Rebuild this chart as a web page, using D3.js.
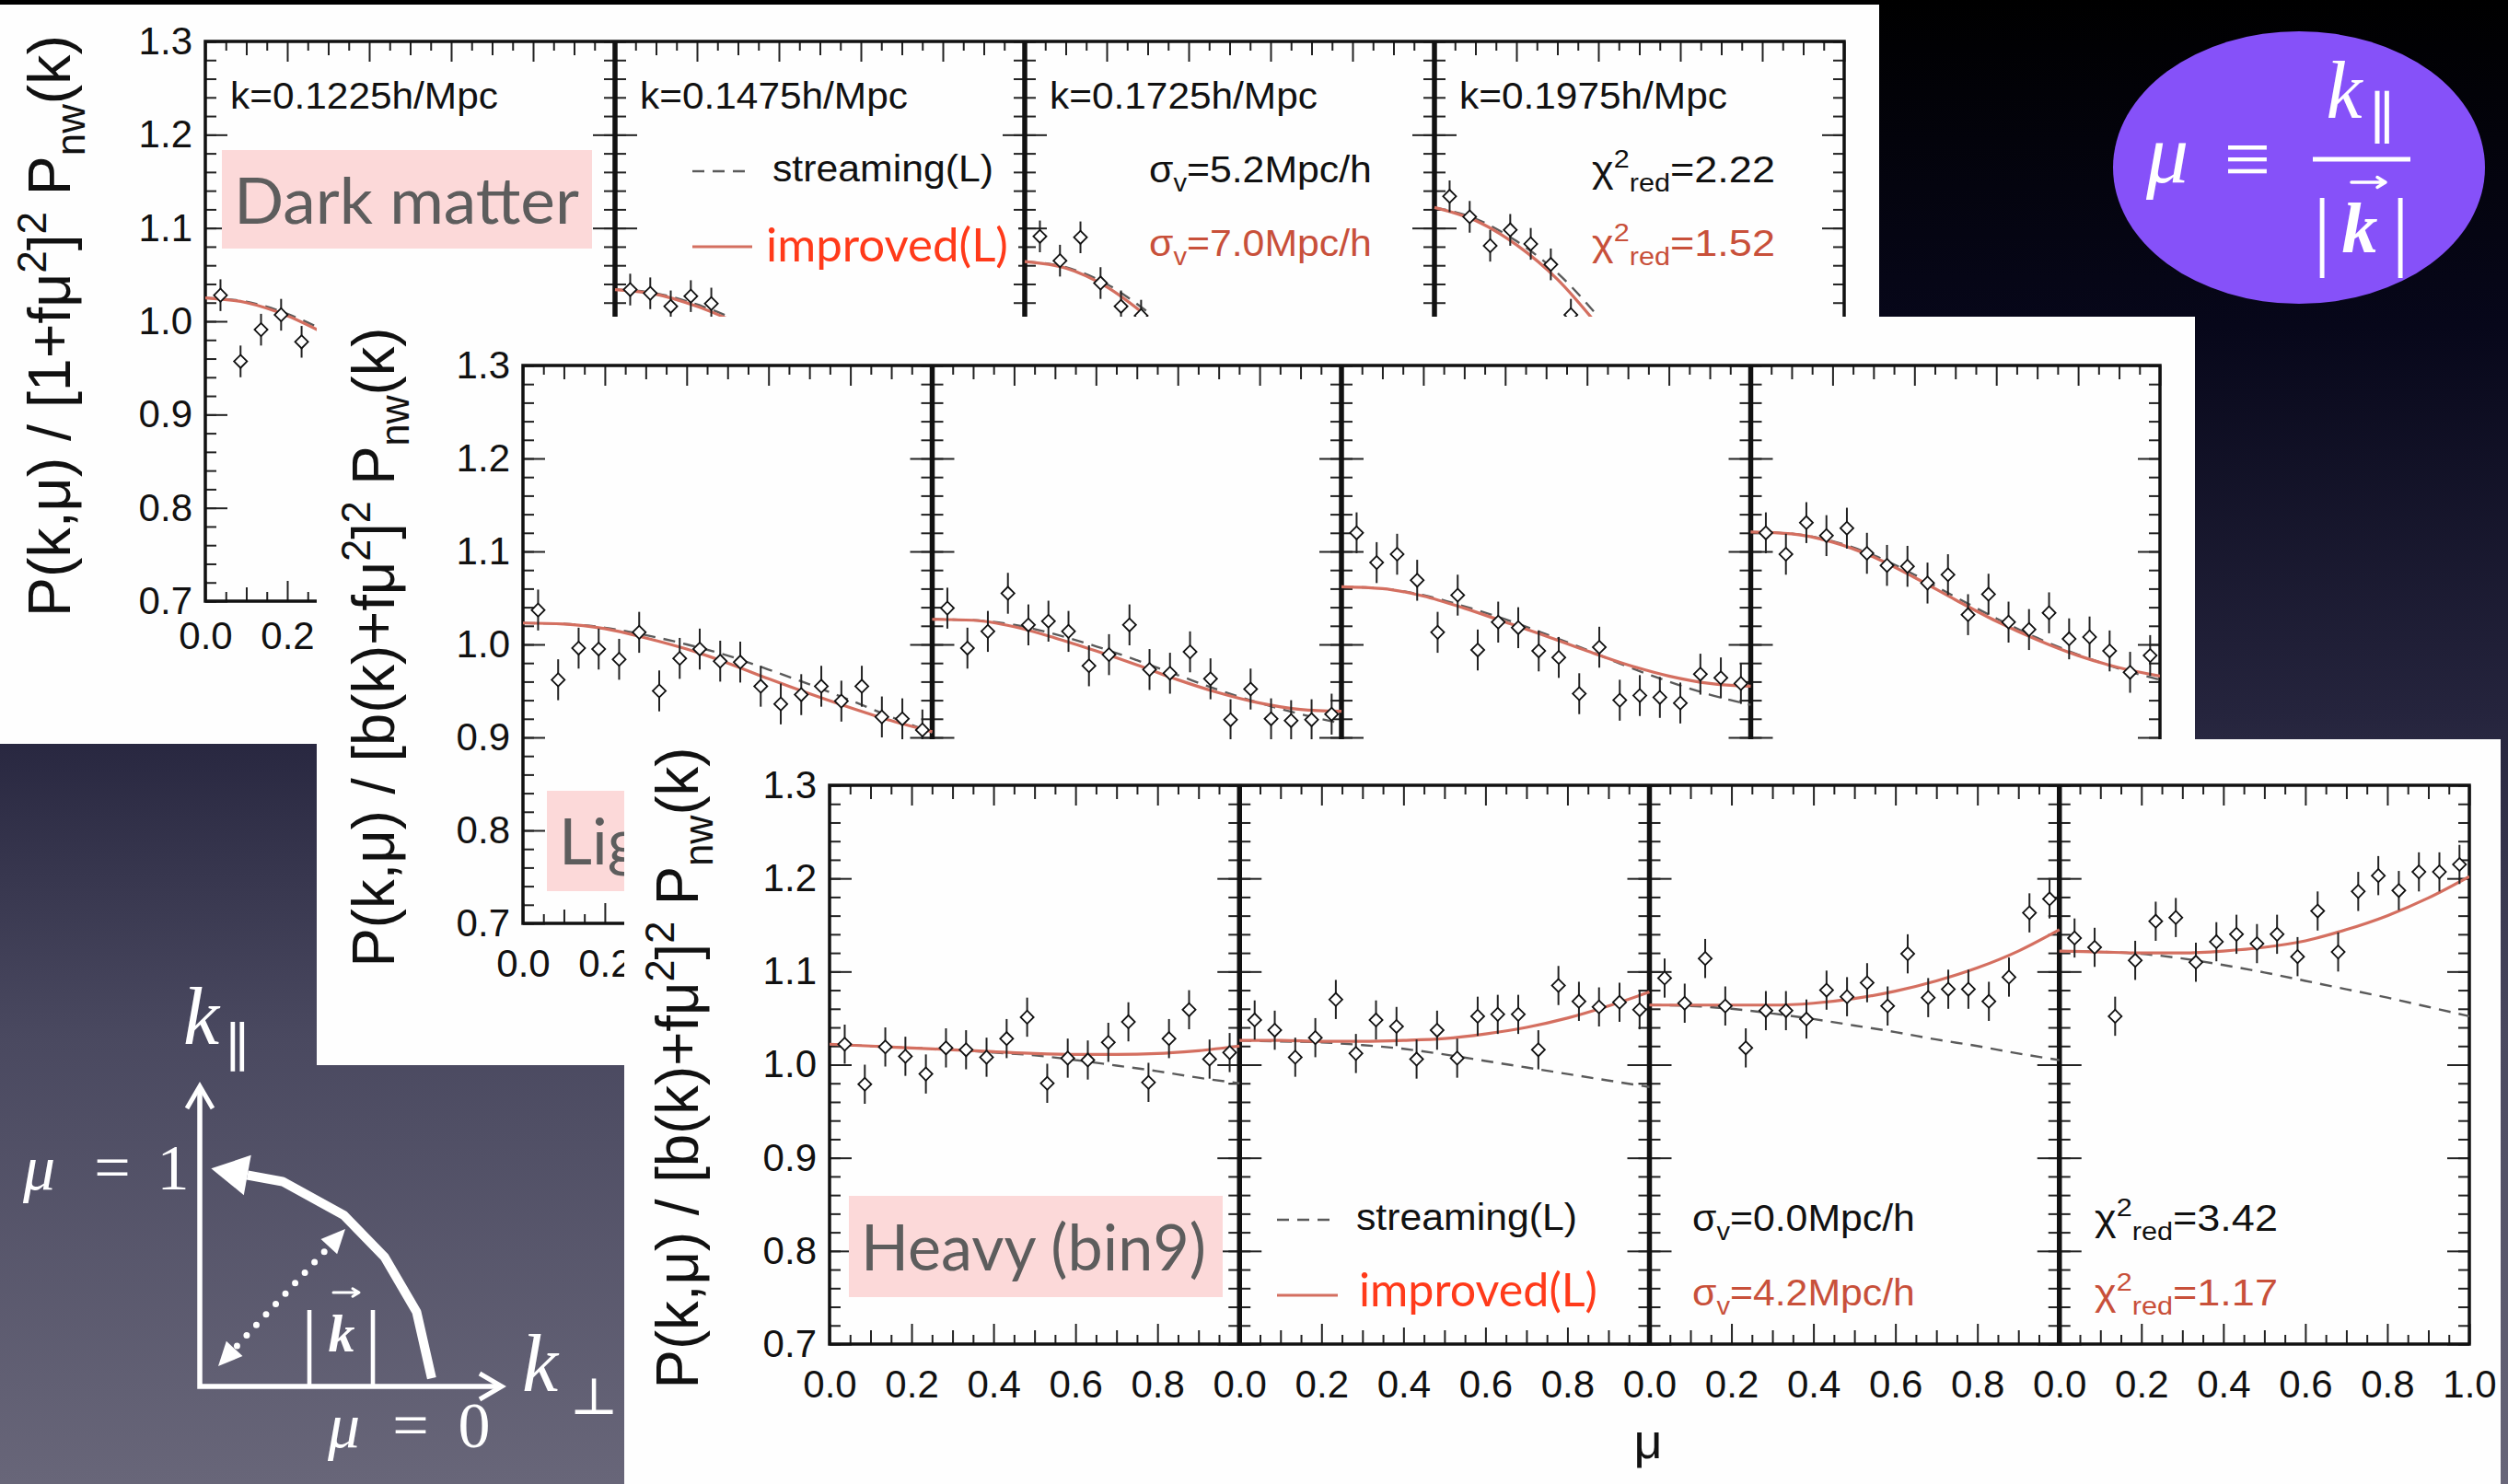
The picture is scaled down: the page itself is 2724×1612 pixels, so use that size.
<!DOCTYPE html>
<html>
<head>
<meta charset="utf-8">
<script src="https://cdn.jsdelivr.net/npm/d3@7"></script>
<style>
  html, body { margin: 0; padding: 0; background: #000; overflow: hidden; }
</style>
</head>
<body>
<svg id="slide" width="2724" height="1612"></svg>
<script>
// ---------- data ----------
// mean mu of each of the 20 mu-bins
const muBins = [0.037, 0.086, 0.136, 0.185, 0.235, 0.284, 0.333, 0.383, 0.432, 0.482,
                0.531, 0.581, 0.630, 0.680, 0.729, 0.778, 0.828, 0.877, 0.927, 0.976];
// mu nodes of the model curves
const muModel = [0, 0.1, 0.2, 0.3, 0.4, 0.5, 0.6, 0.7, 0.8, 0.9, 1.0];

const yMajor = [0.7, 0.8, 0.9, 1.0, 1.1, 1.2, 1.3];
const yTickLabels = ["0.7", "0.8", "0.9", "1.0", "1.1", "1.2", "1.3"];
const xMajor = [0, 0.2, 0.4, 0.6, 0.8, 1.0];
const xTickLabels = ["0.0", "0.2", "0.4", "0.6", "0.8", "1.0"];
const xMid = [0.1, 0.3, 0.5, 0.7, 0.9];
const xMinor = [0.05, 0.15, 0.25, 0.35, 0.45, 0.55, 0.65, 0.75, 0.85, 0.95];

const kLabels = ["k=0.1225h/Mpc", "k=0.1475h/Mpc", "k=0.1725h/Mpc", "k=0.1975h/Mpc"];

// Dark matter: low-mu part of each k-bin
const dmPoints = [
  [1.028, 0.957, 0.991, 1.007, 0.978],
  [1.034, 1.030, 1.016, 1.027, 1.019],
  [1.091, 1.065, 1.090, 1.041, 1.016, 1.006],
  [1.134, 1.112, 1.081, 1.098, 1.083, 1.061, 1.007]
];
const dmImproved = [
  [1.025, 1.020, 1.006, 0.985],
  [1.034, 1.029, 1.016, 0.998],
  [1.064, 1.057, 1.037, 1.005],
  [1.122, 1.108, 1.082, 1.045, 0.995]
];
const dmStreaming = [
  [1.025, 1.021, 1.008, 0.988],
  [1.034, 1.030, 1.018, 1.001],
  [1.064, 1.058, 1.040, 1.010],
  [1.122, 1.110, 1.086, 1.052, 1.005]
];
const dmErr = 0.017;

// Light haloes
const lightPoints = [
  [1.037, 0.962, 0.996, 0.995, 0.984, 1.013, 0.950, 0.985, 0.995, 0.982,
   0.981, 0.955, 0.936, 0.946, 0.955, 0.939, 0.955, 0.922, 0.920, 0.908],
  [1.039, 0.996, 1.014, 1.055, 1.021, 1.025, 1.014, 0.977, 0.989, 1.021,
   0.973, 0.969, 0.992, 0.963, 0.919, 0.952, 0.920, 0.918, 0.919, 0.925],
  [1.120, 1.088, 1.097, 1.069, 1.013, 1.053, 0.994, 1.024, 1.018, 0.993,
   0.986, 0.947, 0.997, 0.940, 0.945, 0.943, 0.937, 0.968, 0.964, 0.958],
  [1.120, 1.097, 1.131, 1.117, 1.125, 1.098, 1.085, 1.084, 1.066, 1.075,
   1.032, 1.054, 1.024, 1.016, 1.034, 1.006, 1.008, 0.993, 0.970, 0.988]
];
const lightImproved = [
  [1.023, 1.022, 1.017, 1.007, 0.995, 0.980, 0.963, 0.947, 0.932, 0.918, 0.906],
  [1.027, 1.026, 1.019, 1.007, 0.993, 0.978, 0.962, 0.948, 0.937, 0.930, 0.928],
  [1.062, 1.060, 1.052, 1.039, 1.024, 1.009, 0.993, 0.978, 0.966, 0.958, 0.955],
  [1.121, 1.119, 1.110, 1.094, 1.072, 1.048, 1.025, 1.005, 0.988, 0.975, 0.966]
];
const lightStreaming = [
  [1.023, 1.022, 1.018, 1.010, 1.000, 0.988, 0.973, 0.957, 0.940, 0.922, 0.905],
  [1.027, 1.026, 1.021, 1.011, 0.998, 0.983, 0.967, 0.951, 0.937, 0.925, 0.915],
  [1.062, 1.060, 1.053, 1.041, 1.027, 1.011, 0.994, 0.976, 0.960, 0.946, 0.935],
  [1.121, 1.119, 1.111, 1.096, 1.075, 1.051, 1.028, 1.007, 0.989, 0.974, 0.962]
];
const lightErr = 0.022;

// Heavy haloes (bin9)
const heavyPoints = [
  [1.022, 0.979, 1.019, 1.009, 0.990, 1.018, 1.016, 1.008, 1.028, 1.051,
   0.980, 1.007, 1.005, 1.024, 1.046, 0.981, 1.028, 1.059, 1.006, 1.013],
  [1.048, 1.037, 1.008, 1.029, 1.070, 1.012, 1.048, 1.041, 1.006, 1.037,
   1.007, 1.052, 1.054, 1.054, 1.016, 1.085, 1.068, 1.062, 1.067, 1.059],
  [1.093, 1.066, 1.114, 1.063, 1.018, 1.058, 1.058, 1.049, 1.080, 1.073,
   1.088, 1.063, 1.119, 1.072, 1.081, 1.081, 1.068, 1.094, 1.163, 1.178],
  [1.136, 1.126, 1.052, 1.112, 1.154, 1.158, 1.110, 1.132, 1.140, 1.130,
   1.140, 1.116, 1.165, 1.121, 1.186, 1.203, 1.187, 1.207, 1.207, 1.215]
];
const heavyImproved = [
  [1.022, 1.020, 1.018, 1.016, 1.014, 1.012, 1.011, 1.011, 1.012, 1.015, 1.020],
  [1.026, 1.026, 1.025, 1.025, 1.026, 1.028, 1.033, 1.040, 1.050, 1.063, 1.078],
  [1.064, 1.064, 1.064, 1.064, 1.066, 1.071, 1.079, 1.090, 1.104, 1.122, 1.145],
  [1.122, 1.121, 1.120, 1.120, 1.122, 1.126, 1.133, 1.145, 1.160, 1.179, 1.202]
];
const heavyStreaming = [
  [1.022, 1.020, 1.018, 1.016, 1.013, 1.010, 1.005, 0.999, 0.993, 0.986, 0.980],
  [1.026, 1.025, 1.024, 1.021, 1.017, 1.011, 1.004, 0.997, 0.990, 0.983, 0.976],
  [1.064, 1.063, 1.060, 1.055, 1.049, 1.042, 1.035, 1.027, 1.020, 1.012, 1.005],
  [1.122, 1.121, 1.119, 1.114, 1.107, 1.099, 1.090, 1.081, 1.072, 1.062, 1.052]
];
const heavyErr = 0.021;

// fitted velocity dispersions and reduced chi^2 (streaming / improved)
const dmFit = { sigma: ["5.2", "7.0"], chi2: ["2.22", "1.52"] };
const heavyFit = { sigma: ["0.0", "4.2"], chi2: ["3.42", "1.17"] };

// ---------- style ----------
const FONT = "'Liberation Sans', Arial, Helvetica, sans-serif";
const SLIDE_FONT = "Lato, 'Open Sans', sans-serif";
const MATH_FONT = "'Liberation Serif', 'DejaVu Serif', serif";
const RED_MODEL = "#d46f60";
const RED_NOTE = "#c8503a";
const RED_SLIDE = "#ff3a1a";
const TAG_FILL = "#fcd9d9";
const TAG_TEXT = "#5d5d5d";

const svg = d3.select("#slide");
const defs = svg.append("defs");

// slide background
const grad = defs.append("linearGradient").attr("id", "bg")
  .attr("x1", 0).attr("y1", 0).attr("x2", 0).attr("y2", 1);
[[0, "#000000"], [0.22, "#07071a"], [0.48, "#25243d"], [0.7, "#4a4960"], [1, "#686679"]]
  .forEach(([o, c]) => grad.append("stop").attr("offset", o).attr("stop-color", c));
svg.append("rect").attr("width", 2724).attr("height", 1612).attr("fill", "url(#bg)");

// ---------- helpers ----------
function rich(text, parts, size) {
  let shift = 0;
  parts.forEach(([t, kind]) => {
    const target = kind === "sup" ? -0.4 * size : kind === "sub" ? 0.25 * size : 0;
    const ts = text.append("tspan").text(t);
    if (target - shift !== 0) ts.attr("dy", target - shift);
    if (kind) ts.attr("font-size", size * 0.68);
    shift = target;
  });
}

function label(parent, x, y, parts, o) {
  const g = parent.append("g").attr("transform", `translate(${x},${y})`);
  const t = g.append("text")
    .attr("font-family", o.family || FONT)
    .attr("font-size", o.size)
    .attr("fill", o.fill || "#111")
    .attr("text-anchor", o.anchor || "start")
    .style("white-space", "pre");
  if (o.style) t.attr("font-style", o.style);
  if (o.weight) t.attr("font-weight", o.weight);
  rich(t, typeof parts === "string" ? [[parts]] : parts, o.size);
  let tf = "";
  if (o.rotate) tf += `rotate(${o.rotate})`;
  if (o.width) {
    const w = t.node().getComputedTextLength();
    tf += ` scale(${o.width / w},1)`;
  }
  if (tf) t.attr("transform", tf);
  return t;
}

// small vector arrow drawn over a symbol
function vecArrow(parent, x0, x1, y, head, width) {
  parent.append("path")
    .attr("d", d3.line()([[x0, y], [x1 - 2, y]]) + d3.line()([[x1 - head, y - head * 0.6], [x1, y], [x1 - head, y + head * 0.6]]))
    .attr("fill", "none").attr("stroke", "#fff").attr("stroke-width", width)
    .attr("stroke-linecap", "round").attr("stroke-linejoin", "round");
}

function addAxis(g, axis, x, y, fontSize) {
  const a = g.append("g").attr("transform", `translate(${x},${y})`).call(axis);
  a.select(".domain").remove();
  a.attr("font-family", null).attr("font-size", null);
  a.selectAll("line").attr("stroke", "#222").attr("stroke-width", 2);
  a.selectAll("text").attr("font-family", FONT).attr("font-size", fontSize || 42).attr("fill", "#111");
  return a;
}

function drawPanel(p) {
  const g = svg.append("g");
  const [sx0, sy0, sx1, sy1] = p.sheet;
  g.append("rect").attr("x", sx0).attr("y", sy0)
    .attr("width", sx1 - sx0).attr("height", sy1 - sy0).attr("fill", "#fefefe");

  const y = d3.scaleLinear().domain([0.7, 1.3]).range([p.plot.b, p.plot.t]);
  const fw = (p.plot.r - p.plot.l) / 4;
  const xs = d3.range(4).map(i =>
    d3.scaleLinear().domain([0, 1]).range([p.plot.l + i * fw, p.plot.l + (i + 1) * fw]));
  const yMinor = d3.range(0.7, 1.3001, 0.02);

  // ticks on all four sides of every facet
  xs.forEach((x, i) => {
    const [x0, x1] = x.range();
    addAxis(g, d3.axisLeft(y).tickValues(yMinor).tickSize(-12).tickFormat(""), x0, 0);
    addAxis(g, d3.axisLeft(y).tickValues(yMajor).tickSize(-24).tickPadding(14)
      .tickFormat((d, j) => i === 0 ? yTickLabels[j] : ""), x0, 0);
    addAxis(g, d3.axisRight(y).tickValues(yMinor).tickSize(-12).tickFormat(""), x1, 0);
    addAxis(g, d3.axisRight(y).tickValues(yMajor).tickSize(-24).tickFormat(""), x1, 0);

    // labelled mu ticks; the next sheet covers everything right of p.labelLimit
    const nLab = i === 3 ? 6 : 5;
    const labVals = xMajor.slice(0, nLab).filter(v => x(v) < p.labelLimit);
    addAxis(g, d3.axisBottom(x).tickValues(xMajor.slice(0, nLab)).tickSize(-22).tickFormat(""), 0, p.plot.b);
    if (labVals.length) {
      addAxis(g, d3.axisBottom(x).tickValues(labVals).tickSize(0).tickPadding(p.xPad)
        .tickFormat(v => xTickLabels[xMajor.indexOf(v)]), 0, p.plot.b);
    }
    addAxis(g, d3.axisBottom(x).tickValues(xMid).tickSize(-15).tickFormat(""), 0, p.plot.b);
    addAxis(g, d3.axisBottom(x).tickValues(xMinor).tickSize(-10).tickFormat(""), 0, p.plot.b);
    addAxis(g, d3.axisTop(x).tickValues(xMajor).tickSize(-22).tickFormat(""), 0, p.plot.t);
    addAxis(g, d3.axisTop(x).tickValues(xMid).tickSize(-15).tickFormat(""), 0, p.plot.t);
    addAxis(g, d3.axisTop(x).tickValues(xMinor).tickSize(-10).tickFormat(""), 0, p.plot.t);
  });

  // frame and facet dividers
  g.append("rect").attr("x", p.plot.l).attr("y", p.plot.t)
    .attr("width", p.plot.r - p.plot.l).attr("height", p.plot.b - p.plot.t)
    .attr("fill", "none").attr("stroke", "#111").attr("stroke-width", 3.5);
  g.selectAll(null).data(xs.slice(1)).join("line")
    .attr("x1", x => x.range()[0]).attr("x2", x => x.range()[0])
    .attr("y1", p.plot.t).attr("y2", p.plot.b)
    .attr("stroke", "#111").attr("stroke-width", 5.5);

  // y-axis title
  label(g, p.titleX, p.titleY, p.title, { size: 64, anchor: "middle", rotate: -90, width: p.titleLen });

  return { g, xs, y };
}

function drawData(panel, p) {
  const { g, xs, y } = panel;
  defs.append("clipPath").attr("id", "clip-" + p.id).append("rect")
    .attr("x", p.plot.l).attr("y", p.plot.t)
    .attr("width", p.plot.r - p.plot.l).attr("height", p.plot.b - p.plot.t);
  const cg = g.append("g").attr("clip-path", `url(#clip-${p.id})`);
  xs.forEach((x, i) => {
    const line = d3.line().x((d, j) => x(muModel[j])).y(d => y(d)).curve(d3.curveMonotoneX);
    cg.append("path").attr("d", line(p.streaming[i])).attr("fill", "none")
      .attr("stroke", "#5a5a5a").attr("stroke-width", 2.4).attr("stroke-dasharray", "13,9");
    cg.append("path").attr("d", line(p.improved[i])).attr("fill", "none")
      .attr("stroke", RED_MODEL).attr("stroke-width", 3.2);
    const pts = p.points[i].map((v, j) => ({ mu: muBins[j], v }));
    cg.selectAll(null).data(pts).join("line")
      .attr("x1", d => x(d.mu)).attr("x2", d => x(d.mu))
      .attr("y1", d => y(d.v - p.err)).attr("y2", d => y(d.v + p.err))
      .attr("stroke", "#222").attr("stroke-width", 2);
    cg.selectAll(null).data(pts).join("path")
      .attr("d", d3.symbol(d3.symbolSquare, 100))
      .attr("transform", d => `translate(${x(d.mu)},${y(d.v)}) rotate(45)`)
      .attr("fill", "#fff").attr("stroke", "#111").attr("stroke-width", 1.8);
  });
}

function tag(g, box, text, baseline, width, clipRight) {
  let host = g;
  if (clipRight) {
    const id = "tagclip-" + Math.round(box[0]);
    defs.append("clipPath").attr("id", id).append("rect")
      .attr("x", box[0]).attr("y", box[1]).attr("width", clipRight - box[0]).attr("height", box[3] - box[1]);
    host = g.append("g").attr("clip-path", `url(#${id})`);
  }
  host.append("rect").attr("x", box[0]).attr("y", box[1])
    .attr("width", box[2] - box[0]).attr("height", box[3] - box[1]).attr("fill", TAG_FILL);
  label(host, box[0] + 13, baseline, text, { size: 70, family: SLIDE_FONT, fill: TAG_TEXT, width });
}

function legend(g, o) {
  g.append("line").attr("x1", o.x0).attr("x2", o.x1).attr("y1", o.yDash).attr("y2", o.yDash)
    .attr("stroke", "#5a5a5a").attr("stroke-width", 2.4).attr("stroke-dasharray", "13,9");
  label(g, o.textX, o.yDash + 11, "streaming(L)", { size: 41, width: 240 });
  g.append("rect").attr("x", o.bg[0]).attr("y", o.bg[1])
    .attr("width", o.bg[2] - o.bg[0]).attr("height", o.bg[3] - o.bg[1]).attr("fill", "#fefefe");
  g.append("line").attr("x1", o.x0).attr("x2", o.x1).attr("y1", o.yRed).attr("y2", o.yRed)
    .attr("stroke", RED_MODEL).attr("stroke-width", 3.2);
  label(g, o.redX, o.redBase, "improved(L)", { size: 50, family: SLIDE_FONT, fill: RED_SLIDE, width: o.redW });
}

function fitNotes(g, fit, sx, cx, base1, base2) {
  label(g, sx, base1, [["σ"], ["v", "sub"], ["=" + fit.sigma[0] + "Mpc/h"]], { size: 41, width: 242 });
  label(g, sx, base2, [["σ"], ["v", "sub"], ["=" + fit.sigma[1] + "Mpc/h"]], { size: 41, width: 242, fill: RED_NOTE });
  label(g, cx, base1, [["χ"], ["2", "sup"], ["red", "sub"], ["=" + fit.chi2[0]]], { size: 41, width: 199 });
  label(g, cx, base2, [["χ"], ["2", "sup"], ["red", "sub"], ["=" + fit.chi2[1]]], { size: 41, width: 199, fill: RED_NOTE });
}

const titleDM = [["P(k,μ) / [1+fμ"], ["2", "sup"], ["]"], ["2", "sup"], [" P"], ["nw", "sub"], ["(k)"]];
const titleBias = [["P(k,μ) / [b(k)+fμ"], ["2", "sup"], ["]"], ["2", "sup"], [" P"], ["nw", "sub"], ["(k)"]];

// ---------- Dark matter sheet ----------
const pDM = {
  id: "dm", sheet: [0, 5, 2041, 808], plot: { l: 223, r: 2003, t: 45, b: 653 }, xPad: 22, labelLimit: 344,
  title: titleDM, titleX: 76, titleY: 354, titleLen: 632,
  points: dmPoints, improved: dmImproved, streaming: dmStreaming, err: dmErr
};
const dm = drawPanel(pDM);
tag(dm.g, [241, 163, 643, 270], "Dark matter", 243, 375);
drawData(dm, pDM);
dm.xs.forEach((x, i) => label(dm.g, x(0) + 27, 118, kLabels[i], { size: 41, width: 291 }));
legend(dm.g, { x0: 752, x1: 817, yDash: 186, textX: 839, bg: [820, 240, 1106, 306],
               yRed: 268, redX: 832, redBase: 284, redW: 263 });
fitNotes(dm.g, dmFit, 1248, 1729, 198, 278);

// ---------- Light haloes sheet ----------
const pLight = {
  id: "light", sheet: [344, 344, 2384, 1157], plot: { l: 568, r: 2346, t: 397, b: 1003 }, xPad: 28, labelLimit: 678,
  title: titleBias, titleX: 428, titleY: 703, titleLen: 695,
  points: lightPoints, improved: lightImproved, streaming: lightStreaming, err: lightErr
};
const light = drawPanel(pLight);
drawData(light, pLight);
tag(light.g, [594, 859, 1000, 968], "Light", 939, null, 678);

// ---------- Heavy haloes sheet ----------
const pHeavy = {
  id: "heavy", sheet: [678, 803, 2716, 1612], plot: { l: 901, r: 2682, t: 853, b: 1460 }, xPad: 28, labelLimit: 2724,
  title: titleBias, titleX: 758, titleY: 1160, titleLen: 697,
  points: heavyPoints, improved: heavyImproved, streaming: heavyStreaming, err: heavyErr
};
const heavy = drawPanel(pHeavy);
drawData(heavy, pHeavy);
tag(heavy.g, [922, 1299, 1328, 1409], "Heavy (bin9)", 1380, 375);
legend(heavy.g, { x0: 1387, x1: 1453, yDash: 1325, textX: 1473, bg: [1459, 1378, 1752, 1442],
                  yRed: 1407, redX: 1476, redBase: 1419, redW: 259 });
fitNotes(heavy.g, heavyFit, 1838, 2275, 1337, 1418);
label(heavy.g, 1790, 1584, "μ", { size: 54, anchor: "middle" });

// ---------- definition of mu ----------
const def = svg.append("g").attr("fill", "#fff");
def.append("ellipse").attr("cx", 2497).attr("cy", 182).attr("rx", 202).attr("ry", 148).attr("fill", "#8651f9");
label(def, 2354, 198, "μ", { size: 92, family: MATH_FONT, style: "italic", anchor: "middle", fill: "#fff" });
label(def, 2441, 203, "≡", { size: 90, family: MATH_FONT, anchor: "middle", fill: "#fff" });
def.append("line").attr("x1", 2512).attr("x2", 2618).attr("y1", 173).attr("y2", 173)
  .attr("stroke", "#fff").attr("stroke-width", 5);
label(def, 2546, 128, "k", { size: 88, family: MATH_FONT, style: "italic", anchor: "middle", fill: "#fff" });
label(def, 2587, 150, "∥", { size: 62, family: "'DejaVu Serif', serif", anchor: "middle", fill: "#fff" });
label(def, 2522, 282, "|", { size: 96, family: MATH_FONT, anchor: "middle", fill: "#fff" });
label(def, 2607, 282, "|", { size: 96, family: MATH_FONT, anchor: "middle", fill: "#fff" });
label(def, 2563, 274, "k", { size: 78, family: MATH_FONT, style: "italic", weight: "bold", anchor: "middle", fill: "#fff" });
vecArrow(def, 2554, 2591, 198, 9, 3.5);

// ---------- k-space sketch ----------
const sk = svg.append("g");
const origin = [217, 1506];
const white = "#fff";
sk.append("path").attr("d", d3.line()([[origin[0], 1182], origin, [543, origin[1]]]))
  .attr("fill", "none").attr("stroke", white).attr("stroke-width", 5.5);
sk.append("path").attr("d", d3.line()([[203, 1204], [217, 1180], [231, 1204]]))
  .attr("fill", "none").attr("stroke", white).attr("stroke-width", 5).attr("stroke-linejoin", "miter");
sk.append("path").attr("d", d3.line()([[521, 1492], [545, 1506], [521, 1520]]))
  .attr("fill", "none").attr("stroke", white).attr("stroke-width", 5).attr("stroke-linejoin", "miter");

// quarter circle of fixed |k|, drawn as a chain of segments
const arcDeg = [2, 19, 35, 50, 68];
const arcR = [252, 249, 245, 243, 240];
const polar = (deg, r) => [origin[0] + r * Math.cos(deg * Math.PI / 180), origin[1] - r * Math.sin(deg * Math.PI / 180)];
const arcPts = arcDeg.map((a, i) => polar(a, arcR[i]));
const tip = polar(87, 237);
const last = arcPts[arcPts.length - 1];
const dl = Math.hypot(tip[0] - last[0], tip[1] - last[1]);
const dir = [(tip[0] - last[0]) / dl, (tip[1] - last[1]) / dl];
const base = [tip[0] - 40 * dir[0], tip[1] - 40 * dir[1]];
sk.append("path").attr("d", d3.line()([...arcPts, base]))
  .attr("fill", "none").attr("stroke", white).attr("stroke-width", 10).attr("stroke-linejoin", "bevel");
sk.append("path").attr("d", d3.line()([tip,
    [base[0] + 22 * dir[1], base[1] - 22 * dir[0]],
    [base[0] - 22 * dir[1], base[1] + 22 * dir[0]]]) + "Z")
  .attr("fill", white);

// dotted |k| double arrow
const dA = [237, 1484], dB = [375, 1335];
const dd = Math.hypot(dB[0] - dA[0], dB[1] - dA[1]);
const du = [(dB[0] - dA[0]) / dd, (dB[1] - dA[1]) / dd];
const head = (t, s) => {
  const b = [t[0] - s * 26 * du[0], t[1] - s * 26 * du[1]];
  return d3.line()([t, [b[0] + 12 * du[1], b[1] - 12 * du[0]], [b[0] - 12 * du[1], b[1] + 12 * du[0]]]) + "Z";
};
sk.append("line")
  .attr("x1", dA[0] + 30 * du[0]).attr("y1", dA[1] + 30 * du[1])
  .attr("x2", dB[0] - 30 * du[0]).attr("y2", dB[1] - 30 * du[1])
  .attr("stroke", white).attr("stroke-width", 7).attr("stroke-linecap", "round")
  .attr("stroke-dasharray", "0,15.5");
sk.append("path").attr("d", head(dA, -1)).attr("fill", white);
sk.append("path").attr("d", head(dB, 1)).attr("fill", white);

const mathOpt = (size, extra) => Object.assign({ size, family: MATH_FONT, fill: white, style: "italic" }, extra || {});
label(sk, 199, 1134, "k", mathOpt(88));
label(sk, 258, 1158, "∥", { size: 58, family: "'DejaVu Serif', serif", fill: white, anchor: "middle" });
label(sk, 567, 1511, "k", mathOpt(88));
label(sk, 645, 1536, "⊥", { size: 56, family: "'DejaVu Serif', serif", fill: white, anchor: "middle" });
label(sk, 25, 1292, "μ", mathOpt(70));
label(sk, 122, 1292, "=", mathOpt(70, { style: null, anchor: "middle" }));
label(sk, 188, 1292, "1", mathOpt(70, { style: null, anchor: "middle" }));
label(sk, 356, 1572, "μ", mathOpt(70));
label(sk, 446, 1572, "=", mathOpt(70, { style: null, anchor: "middle" }));
label(sk, 515, 1572, "0", mathOpt(70, { style: null, anchor: "middle" }));
label(sk, 336, 1487, "|", mathOpt(90, { style: null, anchor: "middle" }));
label(sk, 405, 1487, "|", mathOpt(90, { style: null, anchor: "middle" }));
label(sk, 371, 1468, "k", mathOpt(58, { weight: "bold", anchor: "middle" }));
vecArrow(sk, 362, 390, 1404, 7, 3);
</script>
</body>
</html>
